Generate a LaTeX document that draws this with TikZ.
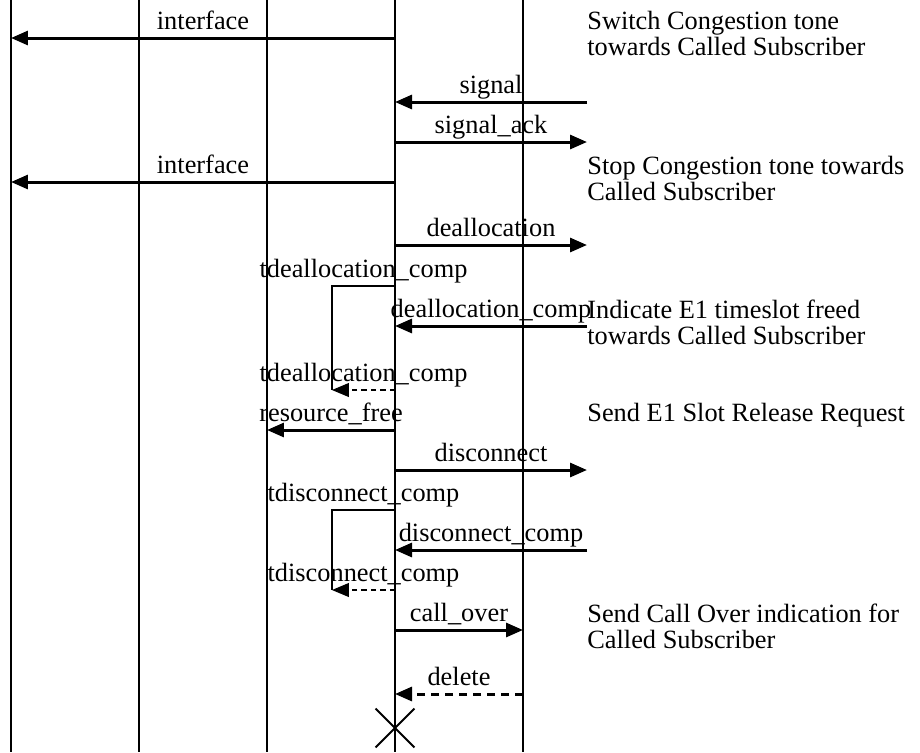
\documentclass[tikz,border=0pt]{standalone}
\usepackage{fontspec}
\setmainfont{Liberation Serif}
\usetikzlibrary{arrows.meta,shapes.misc}

\begin{document}
\begin{tikzpicture}[x=0.02cm,y=-0.02cm,
  font=\fontsize{15}{14.8}\selectfont,
  life/.style={line width=0.6pt},
  msg/.style={-{Triangle[length=0.34cm,width=0.28cm]},line width=1.7pt},
  reply/.style={msg,dash pattern=on 0.17cm off 0.11cm},
  timer/.style={line width=0.6pt},
  expiry/.style={-{Triangle[length=0.34cm,width=0.28cm]},line width=0.6pt,
                 dash pattern=on 0.11cm off 0.08cm},
  lbl/.style={midway,anchor=base,yshift=0.18cm,inner sep=0pt},
  note/.style={anchor=base west,align=left,inner sep=0pt}]
  \useasboundingbox (0,0) rectangle (920,752);
  \coordinate (bot) at (0,752);
  \coordinate (ext) at (587,0);
  \coordinate (tm) at (332,0);
  \foreach \n/\x in {a/11,b/139,c/267,d/395,e/523}{
    \coordinate (\n) at (\x,0);
    \draw[life] (\n) -- (\n |- bot);
  }
  \foreach \r/\y in {iface1/38,sig/102,sigack/142,iface2/182,dealloc/245,
                     tdtop/286,dcomp/326,tdbot/390,rfree/430,disc/470,
                     tctop/510,disccomp/550,tcbot/590,cover/630,del/694,fin/728}
    \coordinate (\r) at (0,\y);

  \draw[msg] (d |- iface1) -- node[lbl]{interface} (a |- iface1);
  \draw[msg] (ext |- sig) -- node[lbl]{signal} (d |- sig);
  \draw[msg] (d |- sigack) -- node[lbl]{signal\_ack} (ext |- sigack);
  \draw[msg] (d |- iface2) -- node[lbl]{interface} (a |- iface2);
  \draw[msg] (d |- dealloc) -- node[lbl]{deallocation} (ext |- dealloc);
  \draw[timer] (d |- tdtop) -- node[lbl]{tdeallocation\_comp} (tm |- tdtop)
    -- (tm |- tdbot);
  \draw[msg] (ext |- dcomp) -- node[lbl]{deallocation\_comp} (d |- dcomp);
  \draw[expiry] (d |- tdbot) -- node[lbl]{tdeallocation\_comp} (tm |- tdbot);
  \draw[msg] (d |- rfree) -- node[lbl]{resource\_free} (c |- rfree);
  \draw[msg] (d |- disc) -- node[lbl]{disconnect} (ext |- disc);
  \draw[timer] (d |- tctop) -- node[lbl]{tdisconnect\_comp} (tm |- tctop)
    -- (tm |- tcbot);
  \draw[msg] (ext |- disccomp) -- node[lbl]{disconnect\_comp} (d |- disccomp);
  \draw[expiry] (d |- tcbot) -- node[lbl]{tdisconnect\_comp} (tm |- tcbot);
  \draw[msg] (d |- cover) -- node[lbl]{call\_over} (e |- cover);
  \draw[reply] (e |- del) -- node[lbl]{delete} (d |- del);
  \node[draw,cross out,line width=1.1pt,minimum size=0.74cm,inner sep=0pt]
    (stop) at (d |- fin) {};

  \node[note] (n1) at (587,55) {Switch Congestion tone\\towards Called Subscriber};
  \node[note] (n2) at (587,200) {Stop Congestion tone towards\\Called Subscriber};
  \node[note] (n3) at (587,344) {Indicate E1 timeslot freed\\towards Called Subscriber};
  \node[note] (n4) at (587,421) {Send E1 Slot Release Request};
  \node[note] (n5) at (587,648) {Send Call Over indication for\\Called Subscriber};
\end{tikzpicture}
\end{document}
